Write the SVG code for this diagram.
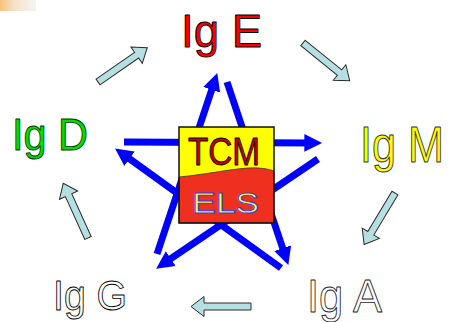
<svg xmlns="http://www.w3.org/2000/svg" width="451" height="322" viewBox="0 0 451 322">
  <style>
    .lbl { font-family: "Liberation Sans", Arial, sans-serif; stroke-width: 0.9; stroke-linejoin: round; }
    .star { stroke: #0000ff; stroke-width: 7; fill: none; }
    .cyc { fill: #b6dfe2; stroke: #2a2a2a; stroke-width: 1; stroke-linejoin: miter; }
  </style>
  <defs>
    <marker id="bh" markerUnits="userSpaceOnUse" markerWidth="20" markerHeight="20" viewBox="0 -9 18 18" refX="6" refY="0" orient="auto">
      <path d="M0,-8 L16,0 L0,8 Z" fill="#0000ff"/>
    </marker>
    <path id="ca" d="M0,-3.5 L47,-3.5 L47,-10 L60,0 L47,10 L47,3.5 L0,3.5 Z"/>
    <linearGradient id="smear" x1="0" y1="0" x2="1" y2="0">
      <stop offset="0" stop-color="#f4a640"/>
      <stop offset="0.4" stop-color="#f2d6b0"/>
      <stop offset="1" stop-color="#f0f0f0"/>
    </linearGradient>
  </defs>
  <rect width="451" height="322" fill="#ffffff"/>
  <rect x="0" y="0" width="36" height="11" fill="url(#smear)" opacity="0.7"/>

  <g id="connectors">
    <g id="star-lines">
      <line class="star" x1="124" y1="142" x2="311" y2="143" marker-end="url(#bh)"/>
      <line class="star" x1="227" y1="82" x2="284.8" y2="254.5" marker-end="url(#bh)"/>
      <line class="star" x1="157" y1="254" x2="213.8" y2="83.5" marker-end="url(#bh)"/>
      <line class="star" x1="318" y1="159" x2="165.3" y2="262.4" marker-end="url(#bh)"/>
      <line class="star" x1="281" y1="268" x2="124.1" y2="154.9" marker-end="url(#bh)"/>
    </g>
    <g id="cycle-arrows">
      <use href="#ca" class="cyc" transform="translate(98,82) rotate(-34.8)"/>
      <use href="#ca" class="cyc" transform="translate(303,43) rotate(38.9)"/>
      <use href="#ca" class="cyc" transform="translate(395,193) rotate(121)"/>
      <use href="#ca" class="cyc" transform="translate(251,306.5) rotate(180)"/>
      <use href="#ca" class="cyc" transform="translate(88,238) rotate(-114.4)"/>
    </g>
  </g>

  <g id="center">
    <rect x="179" y="127" width="95" height="96" fill="#ffff00"/>
    <path d="M179,177 C200,175 215,172 230,170 S260,166 274,171 L274,223 L179,223 Z" fill="#f0301e" stroke="#333" stroke-width="0.8"/>
    <rect x="179" y="127" width="95" height="96" fill="none" stroke="#111" stroke-width="1.5"/>
    <text class="lbl" x="188" y="165" font-size="38" textLength="72" lengthAdjust="spacingAndGlyphs" fill="#cc0000" stroke="#000">TCM</text>
    <text class="lbl" x="192" y="213" font-size="29" textLength="67" lengthAdjust="spacingAndGlyphs" fill="#ffff40" stroke="#2a3cff" stroke-width="1.3">ELS</text>
  </g>

  <g id="igE"><text class="lbl" x="181" y="47" font-size="46" textLength="81" lengthAdjust="spacingAndGlyphs" fill="#ff0000" stroke="#000">Ig E</text></g>
  <g id="igM"><text class="lbl" x="360" y="162" font-size="46" textLength="84" lengthAdjust="spacingAndGlyphs" fill="#ffff00" stroke="#333" transform="translate(0,162) scale(1,1.09) translate(0,-162)">Ig M</text></g>
  <g id="igA"><text class="lbl" x="307" y="312" font-size="47" textLength="75" lengthAdjust="spacingAndGlyphs" fill="#ffffff" stroke="#222">Ig A</text></g>
  <g id="igG"><text class="lbl" x="53" y="310" font-size="42" textLength="74" lengthAdjust="spacingAndGlyphs" fill="#ffffff" stroke="#000">Ig G</text></g>
  <g id="igD"><text class="lbl" x="12" y="150" font-size="45" textLength="76" lengthAdjust="spacingAndGlyphs" fill="#00dd00" stroke="#003300">Ig D</text></g>
</svg>
